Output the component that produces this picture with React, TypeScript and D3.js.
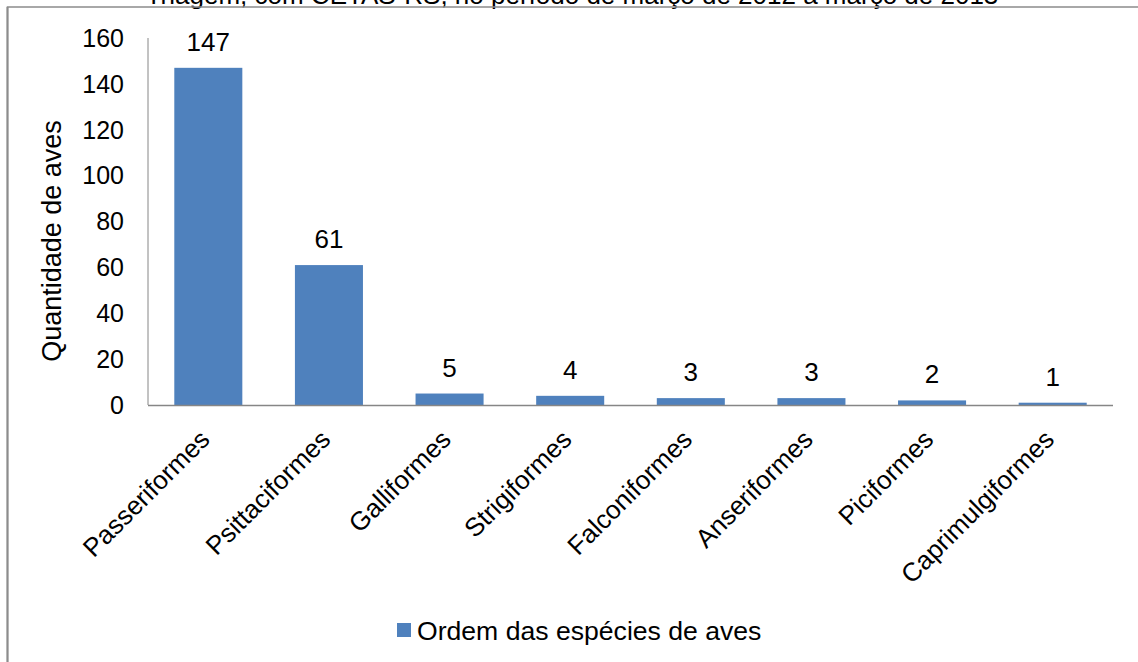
import React from "react";
import * as d3 from "d3";

const categories = [
  "Passeriformes",
  "Psittaciformes",
  "Galliformes",
  "Strigiformes",
  "Falconiformes",
  "Anseriformes",
  "Piciformes",
  "Caprimulgiformes",
];
const values = [147, 61, 5, 4, 3, 3, 2, 1];
const yTicks = [0, 20, 40, 60, 80, 100, 120, 140, 160];
const seriesName = "Ordem das espécies de aves";
const yTitle = "Quantidade de aves";
const titleText = "Triagem, com CETAS-RS, no período de março de 2012 a março de 2013";

const W = 1138;
const H = 662;
const FONT = "'Liberation Sans', Arial, sans-serif";
const BAR = "#4F81BD";
const AXIS = "#868686";

export default function App() {
  const left = 148;
  const right = 1113;
  const top = 38;
  const bottom = 405;
  const x = d3.scaleBand<string>().domain(categories).range([left, right]).paddingInner(0.436).paddingOuter(0.218);
  const y = d3.scaleLinear().domain([0, 160]).range([bottom, top]);

  return (
    <svg
      width={W}
      height={H}
      style={{ position: "absolute", left: 0, top: 0, display: "block", background: "#fff" }}
      fontFamily={FONT}
    >
      <text x={572} y={4} fontSize={26} textAnchor="middle" fill="#000">
        {titleText}
      </text>
      <rect x={7.5} y={7} width={1200} height={700} fill="none" stroke="#8c8c8c" strokeWidth={1.5} />
      <line x1={7.5} y1={7} x2={7.5} y2={662} stroke="#8c8c8c" strokeWidth={2} />

      {categories.map((c, i) => (
        <rect
          key={c}
          x={x(c)}
          y={y(values[i])}
          width={x.bandwidth()}
          height={bottom - y(values[i])}
          fill={BAR}
        />
      ))}

      <line x1={left} y1={top} x2={left} y2={bottom} stroke={AXIS} strokeWidth={1} />
      <line x1={left} y1={bottom + 0.5} x2={right} y2={bottom + 0.5} stroke={AXIS} strokeWidth={1.5} />

      {yTicks.map((t) => (
        <text key={t} x={124} y={y(t)} dy="0.35em" fontSize={25} textAnchor="end" fill="#000">
          {t}
        </text>
      ))}

      <text
        transform={`translate(61,241) rotate(-90)`}
        fontSize={27}
        textAnchor="middle"
        fill="#000"
      >
        {yTitle}
      </text>

      {categories.map((c, i) => (
        <text
          key={c + "v"}
          x={(x(c) as number) + x.bandwidth() / 2}
          y={y(values[i]) - 17}
          fontSize={26}
          textAnchor="middle"
          fill="#000"
        >
          {values[i]}
        </text>
      ))}

      {categories.map((c) => {
        const cx = (x(c) as number) + x.bandwidth() / 2 + 3;
        return (
          <text
            key={c + "l"}
            transform={`translate(${cx},441) rotate(-45)`}
            fontSize={26}
            textAnchor="end"
            fill="#000"
          >
            {c}
          </text>
        );
      })}

      <rect x={397} y={623} width={14} height={14} fill={BAR} />
      <text x={417} y={640} fontSize={26.6} fill="#000">
        {seriesName}
      </text>
    </svg>
  );
}
